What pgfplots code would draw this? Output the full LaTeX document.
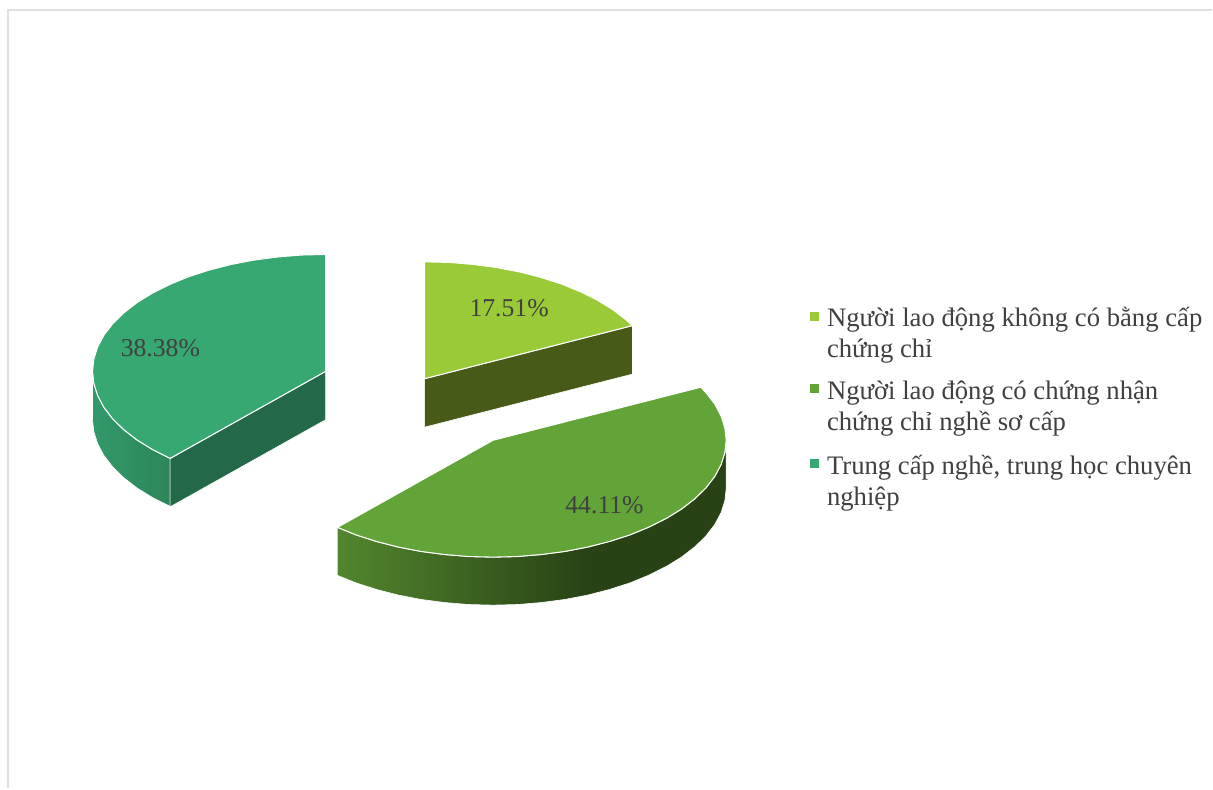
\documentclass[border=0pt]{standalone}
\usepackage{fontspec}
\usepackage{pgfplots}
\usepackage{pgfplotstable}
\pgfplotsset{compat=1.18}
\setmainfont{Liberation Serif}

\definecolor{sliceA}{HTML}{9ACA38}
\definecolor{sliceB}{HTML}{62A437}
\definecolor{sliceC}{HTML}{38A872}
\definecolor{cutA}{HTML}{475A18}
\definecolor{cutC}{HTML}{236848}
\definecolor{labelgray}{HTML}{404040}
\definecolor{framegray}{HTML}{E0E0E0}
\definecolor{wallBleft}{HTML}{52862E}
\definecolor{wallBright}{HTML}{284215}
\definecolor{wallCleft}{HTML}{33996A}
\definecolor{wallCright}{HTML}{2C8559}

% Outer walls: 25bp..75bp of a shading is what the filled path's box shows
\pgfdeclarehorizontalshading{wallB}{100bp}{
  color(0bp)=(wallBleft); color(25bp)=(wallBleft);
  color(57bp)=(wallBright); color(100bp)=(wallBright)}
\pgfdeclarehorizontalshading{wallC}{100bp}{
  color(0bp)=(wallCleft); color(25bp)=(wallCleft);
  color(75bp)=(wallCright); color(100bp)=(wallCright)}

% Shares: 17.51, 44.11, 38.38 percent, clockwise from twelve o'clock.
% Each table is the outline of a face, as offsets from the slice's centre.
\pgfplotstableread{
dx dy
0 0
0 -117
24.4 -116.4
48.5 -114.4
72.1 -111.3
94.9 -106.9
116.7 -101.3
137.2 -94.7
156.2 -86.9
173.4 -78.3
188.8 -68.8
202.1 -58.5
208.0 -53.1
0 0
}\topA
\pgfplotstableread{
dx dy
0 0
208.0 -53.1
213.2 -47.6
222.0 -36.2
228.3 -24.3
232.1 -12.2
233.4 0
232.1 12.2
228.3 24.3
222.0 36.2
213.2 47.6
202.1 58.5
188.8 68.8
173.4 78.3
156.2 86.9
137.2 94.7
116.7 101.3
94.9 106.9
72.1 111.3
48.5 114.4
24.4 116.4
0 117
-24.4 116.4
-48.5 114.4
-72.1 111.3
-94.9 106.9
-116.7 101.3
-137.2 94.7
-155.7 87.2
0 0
}\topB
\pgfplotstableread{
dx dy
0 0
-155.7 87.2
-173.4 78.3
-188.8 68.8
-202.1 58.5
-213.2 47.6
-222.0 36.2
-228.3 24.3
-232.1 12.2
-233.4 0
-232.1 -12.2
-228.3 -24.3
-222.0 -36.2
-213.2 -47.6
-202.1 -58.5
-188.8 -68.8
-173.4 -78.3
-156.2 -86.9
-137.2 -94.7
-116.7 -101.3
-94.9 -106.9
-72.1 -111.3
-48.5 -114.4
-24.4 -116.4
0 -117
0 0
}\topC
\pgfplotstableread{
dx dy
233.4 0
232.1 12.2
228.3 24.3
222.0 36.2
213.2 47.6
202.1 58.5
188.8 68.8
173.4 78.3
156.2 86.9
137.2 94.7
116.7 101.3
94.9 106.9
72.1 111.3
48.5 114.4
24.4 116.4
0 117
-24.4 116.4
-48.5 114.4
-72.1 111.3
-94.9 106.9
-116.7 101.3
-137.2 94.7
-155.7 87.2
-155.7 135.2
-137.2 142.7
-116.7 149.3
-94.9 154.9
-72.1 159.3
-48.5 162.4
-24.4 164.4
0 165
24.4 164.4
48.5 162.4
72.1 159.3
94.9 154.9
116.7 149.3
137.2 142.7
156.2 134.9
173.4 126.3
188.8 116.8
202.1 106.5
213.2 95.6
222.0 84.2
228.3 72.3
232.1 60.2
233.4 48
233.4 0
}\wallBdata
\pgfplotstableread{
dx dy
-155.7 87.2
-173.4 78.3
-188.8 68.8
-202.1 58.5
-213.2 47.6
-222.0 36.2
-228.3 24.3
-232.1 12.2
-233.4 0
-233.4 48
-232.1 60.2
-228.3 72.3
-222.0 84.2
-213.2 95.6
-202.1 106.5
-188.8 116.8
-173.4 126.3
-155.7 135.2
-155.7 87.2
}\wallCdata

\begin{document}
\begin{tikzpicture}
\begin{axis}[
  x=1pt, y=1pt,
  xmin=0, xmax=1213, ymin=0, ymax=789,
  y dir=reverse,
  hide axis,
  clip=false,
  every axis plot/.append style={mark=none},
]
% the page takes the whole axis rectangle
\path (axis cs:0,0) (axis cs:1213,789);

% frame at the left and top of the chart area
\addplot[framegray, line width=2pt] coordinates {(8,789) (8,10) (1213,10)};

% slice 1
\addplot[fill=cutA, draw=white, line width=0.6pt]
  coordinates {(425,379) (633.0,325.9) (633.0,374.4) (425,427.5) (425,379)};
\addplot[fill=sliceA, draw=white, line width=1.1pt]
  table[x expr=\thisrow{dx}+425, y expr=\thisrow{dy}+379] {\topA};

% slice 2
\addplot[shade, shading=wallB, draw=white, line width=0.6pt]
  table[x expr=\thisrow{dx}+493.4, y expr=\thisrow{dy}+440.6] {\wallBdata};
\addplot[fill=sliceB, draw=white, line width=1.1pt]
  table[x expr=\thisrow{dx}+493.4, y expr=\thisrow{dy}+440.6] {\topB};

% slice 3
\addplot[shade, shading=wallC, draw=white, line width=0.6pt]
  table[x expr=\thisrow{dx}+326, y expr=\thisrow{dy}+371.6] {\wallCdata};
\addplot[fill=cutC, draw=white, line width=0.6pt]
  coordinates {(326,371.6) (170.3,458.8) (170.3,507.2) (326,420) (326,371.6)};
\addplot[fill=sliceC, draw=white, line width=1.1pt]
  table[x expr=\thisrow{dx}+326, y expr=\thisrow{dy}+371.6] {\topC};

% value labels
\begin{scope}[every node/.style={text=labelgray, anchor=base, inner sep=0pt,
    font=\fontsize{25.7}{32}\selectfont}]
\node at (axis cs:509.5,316.5) {17.51\%};
\node at (axis cs:605,514) {44.11\%};
\node at (axis cs:160.5,357) {38.38\%};
\end{scope}

% legend
\addplot[only marks, mark=square*, mark size=4pt, color=sliceA] coordinates {(815,316)};
\addplot[only marks, mark=square*, mark size=4pt, color=sliceB] coordinates {(815,389)};
\addplot[only marks, mark=square*, mark size=4pt, color=sliceC] coordinates {(815,464)};
\begin{scope}[every node/.style={text=labelgray, anchor=base west, inner sep=0pt,
    font=\fontsize{26.7}{32}\selectfont}]
\node at (axis cs:827.5,326.5) {Người lao động không có bằng cấp};
\node at (axis cs:827.5,357.5) {chứng chỉ};
\node at (axis cs:827.5,400) {Người lao động có chứng nhận};
\node at (axis cs:827.5,431) {chứng chỉ nghề sơ cấp};
\node at (axis cs:827.5,474.5) {Trung cấp nghề, trung học chuyên};
\node at (axis cs:827.5,505.5) {nghiệp};
\end{scope}
\end{axis}
\end{tikzpicture}
\end{document}
